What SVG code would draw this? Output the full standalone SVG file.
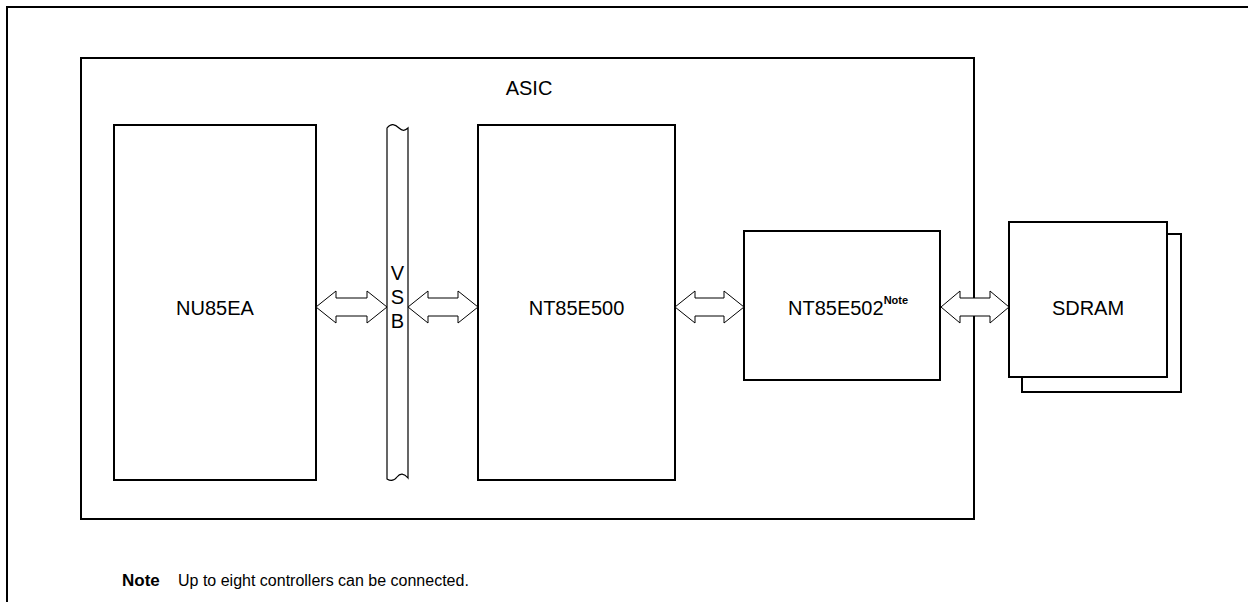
<svg xmlns="http://www.w3.org/2000/svg" width="1248" height="602" viewBox="0 0 1248 602">
<style>
.box{fill:#fff;stroke:#000;stroke-width:2}
.thin{fill:#fff;stroke:#000;stroke-width:1.2}
.arr{fill:#fff;stroke:#000;stroke-width:1}
text{font-family:"Liberation Sans",Arial,sans-serif;fill:#000}
.lbl{font-size:20px;text-anchor:middle}
</style>
<rect width="1248" height="602" fill="#fff"/>
<g id="frame">
<path d="M7,602 V7 H1248" fill="none" stroke="#000" stroke-width="2"/>
</g>
<g id="asic">
<rect class="box" x="81" y="58" width="893" height="461"/>
<text class="lbl" x="529" y="95">ASIC</text>
</g>
<g id="sdram">
<rect class="box" x="1022" y="234" width="159" height="158"/>
<rect class="box" x="1009" y="222" width="158" height="155"/>
<text class="lbl" x="1088" y="315">SDRAM</text>
</g>
<g id="nu85ea">
<rect class="box" x="114" y="125" width="202" height="355"/>
<text class="lbl" x="215" y="315">NU85EA</text>
</g>
<g id="vsb">
<path class="thin" d="M387,128 C391,123 395,124 399,128 C402,131 405,131 408,128 V478 C404,473 400,473 397,477 C394,481 390,481 387,479 Z"/>
<text class="lbl" x="397.5" y="280">V</text>
<text class="lbl" x="397.5" y="304">S</text>
<text class="lbl" x="397.5" y="328">B</text>
</g>
<g id="nt85e500">
<rect class="box" x="478" y="125" width="197" height="355"/>
<text class="lbl" x="576.5" y="315">NT85E500</text>
</g>
<g id="nt85e502">
<rect class="box" x="744" y="231" width="196" height="149"/>
<text x="788" y="315" font-size="20">NT85E502<tspan font-size="11" font-weight="bold" dy="-11">Note</tspan></text>
</g>
<g id="connectors">
<polygon class="arr" points="316,307 336,291 336,298 367,298 367,291 387,307 367,323 367,316 336,316 336,323"/>
<polygon class="arr" points="408,307 428,291 428,298 458,298 458,291 478,307 458,323 458,316 428,316 428,323"/>
<polygon class="arr" points="675,307 695,291 695,298 724,298 724,291 744,307 724,323 724,316 695,316 695,323"/>
<polygon class="arr" points="941,307 960,291 960,298 990,298 990,291 1009,307 990,323 990,316 960,316 960,323"/>
</g>
<g id="note">
<text x="122" y="586" font-size="17" font-weight="bold">Note</text>
<text x="178" y="586" font-size="16">Up to eight controllers can be connected.</text>
</g>
</svg>
